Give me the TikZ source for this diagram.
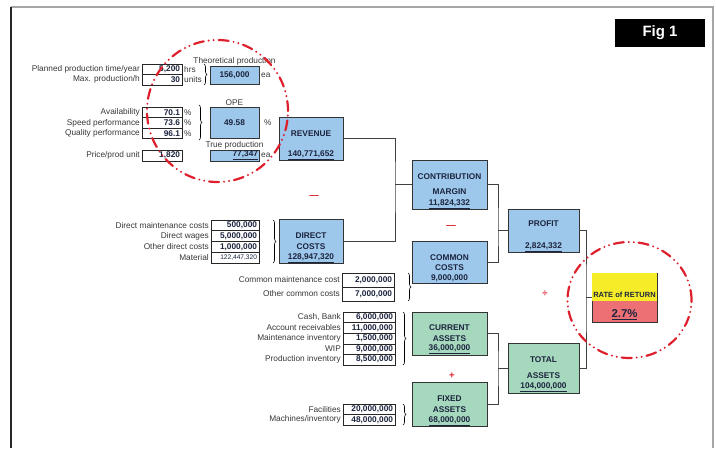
\documentclass[tikz,border=0pt]{standalone}
\usepackage{fontspec}
\setmainfont{Liberation Sans}
\usepackage{tikz}
\usetikzlibrary{calc,decorations.pathreplacing}
\definecolor{boxblue}{RGB}{157,200,235}
\definecolor{boxgreen}{RGB}{166,216,190}
\definecolor{roryellow}{RGB}{246,236,40}
\definecolor{rorred}{RGB}{236,112,116}
\definecolor{inkblue}{RGB}{28,36,62}
\definecolor{labelgray}{RGB}{55,55,55}
\definecolor{markred}{RGB}{222,32,44}
\newcommand\lblfont{\fontsize{8.3}{10}\selectfont}
\def\opsign{\node[text=markred, font=\fontsize{9.5}{10}\selectfont\bfseries, inner sep=0pt]}
\def\bluebox{\node[calcbox, fill=boxblue]}
\def\greenbox{\node[calcbox, fill=boxgreen]}

\begin{document}
\begin{tikzpicture}[x=1pt, y=-1pt,
  lbl/.style={text=labelgray, font=\lblfont, inner xsep=2pt, inner ysep=1pt},
  inbox/.style={draw=black!85, line width=0.6pt, fill=white, outer sep=0pt,
    inner xsep=2pt, inner ysep=0pt, minimum height=10.5pt, align=right,
    text=inkblue, font=\lblfont\bfseries, text width=#1},
  calcbox/.style={draw=black!80, line width=0.9pt, outer sep=0pt, inner sep=0pt,
    text=inkblue, font=\lblfont\bfseries},
  ttl/.style={text=inkblue, font=\lblfont\bfseries, align=center, inner sep=0pt},
  val/.style={text=inkblue, font=\lblfont\bfseries, inner sep=0pt},
  link/.style={draw=black!75, line width=0.7pt},
  grp/.style={decorate, decoration={brace, amplitude=3pt}, line width=0.6pt},
  ring/.style={draw=markred, line width=2.2pt, line cap=round,
    dash pattern=on 10pt off 5pt on 0pt off 5pt on 0pt off 5pt}]
\useasboundingbox (0,0) rectangle (716,448);
% frame
\draw[gray!70, line width=1.2pt] (11,7) -- (713,7) -- (713,448);
\draw[black!85, line width=1.2pt] (11,7) -- (11,448);
\node[fill=black, minimum width=90pt, minimum height=28pt, text=white,
  font=\fontsize{15}{18}\selectfont\bfseries] (fig) at (660,33) {Fig 1};

% theoretical production
\node[inbox=36pt] (hrs) at (162,69.25) {5,200};
\node[inbox=36pt] (maxp) at (162,79.75) {30};
\node[lbl, left] (hrs-l) at (hrs.west) {Planned production time/year};
\node[lbl, left] (maxp-l) at (maxp.west) {Max. production/h};
\node[lbl, right] (hrs-u) at (hrs.east) {hrs};
\node[lbl, right] (maxp-u) at (maxp.east) {units};
\draw[grp] (204,64) -- (204,85);
\bluebox[minimum width=49pt, minimum height=18pt] (theo) at (234.5,75) {156,000};
\node[lbl, above] (theo-l) at (theo.north) {Theoretical production};
\node[lbl, right] (theo-u) at (theo.east) {ea};

% OPE
\node[inbox=36pt] (avail) at (162,112.5) {70.1};
\node[inbox=36pt] (speed) at (162,123) {73.6};
\node[inbox=36pt] (qual) at (162,133.5) {96.1};
\node[lbl, left] (avail-l) at (avail.west) {Availability};
\node[lbl, left] (speed-l) at (speed.west) {Speed performance};
\node[lbl, left] (qual-l) at (qual.west) {Quality performance};
\node[lbl, right] (avail-u) at (avail.east) {\%};
\node[lbl, right] (speed-u) at (speed.east) {\%};
\node[lbl, right] (qual-u) at (qual.east) {\%};
\draw[grp] (199,105) -- (199,140);
\bluebox[minimum width=49pt, minimum height=31pt] (ope) at (234.5,122.5) {49.58};
\node[lbl, above] (ope-l) at (ope.north) {OPE};
\node[lbl, right, xshift=3pt] (ope-u) at (ope.east) {\%};
\bluebox[minimum width=49pt, minimum height=11pt, text width=47pt, align=right] (truep) at (234.5,155.5) {\underline{77,347}};
\node[lbl, above] (truep-l) at (truep.north) {True production};
\node[lbl, right] (truep-u) at (truep.east) {ea};
\node[inbox=36pt, minimum height=11pt] (price) at (162,155.5) {1,820};
\node[lbl, left] (price-l) at (price.west) {Price/prod unit};

% revenue
\bluebox[minimum width=64pt, minimum height=43pt] (rev) at (311,138.5) {};
\node[ttl] (rev-t) at ($(rev.north)+(0,17)$) {REVENUE};
\node[val] (rev-v) at ($(rev.south)+(0,-5)$) {\underline{140,771,652}};
\opsign (minus1) at (314,197) {\textemdash};

% direct costs
\node[inbox=44pt, minimum height=10.75pt] (dmc) at (235,225.4) {500,000};
\node[inbox=44pt, minimum height=10.75pt] (dw) at (235,236.1) {5,000,000};
\node[inbox=44pt, minimum height=10.75pt] (odc) at (235,246.9) {1,000,000};
\node[inbox=44pt, minimum height=10.75pt, font=\fontsize{6.6}{8}\selectfont] (mat) at (235,257.6) {122,447,320};
\node[lbl, left] (dmc-l) at (dmc.west) {Direct maintenance costs};
\node[lbl, left] (dw-l) at (dw.west) {Direct wages};
\node[lbl, left] (odc-l) at (odc.west) {Other direct costs};
\node[lbl, left] (mat-l) at (mat.west) {Material};
\draw[grp] (273,220) -- (273,263);
\bluebox[minimum width=64pt, minimum height=44pt] (dc) at (311,241) {};
\node[ttl] (dc-t) at ($(dc.north)+(0,22.5)$) {DIRECT\\[1pt]COSTS};
\node[val] (dc-v) at ($(dc.south)+(0,-5)$) {\underline{128,947,320}};

% contribution margin
\bluebox[minimum width=75pt, minimum height=49pt] (cm) at (449.5,184.5) {};
\node[ttl] (cm-t) at ($(cm.north)+(0,24.5)$) {CONTRIBUTION\\[5pt]MARGIN};
\node[val] (cm-v) at ($(cm.south)+(0,-5)$) {\underline{11,824,332}};
\opsign (minus2) at (451,227) {\textemdash};

% common costs
\node[inbox=48pt, minimum height=14pt] (cmc) at (368,280) {2,000,000};
\node[inbox=48pt, minimum height=14pt] (occ) at (368,294) {7,000,000};
\node[lbl, left] (cmc-l) at (cmc.west) {Common maintenance cost};
\node[lbl, left] (occ-l) at (occ.west) {Other common costs};
\draw[grp] (408,273) -- (408,301);
\bluebox[minimum width=75pt, minimum height=42pt] (cc) at (449.5,262) {};
\node[ttl] (cc-t) at ($(cc.north)+(0,22)$) {COMMON\\COSTS};
\node[val] (cc-v) at ($(cc.south)+(0,-4)$) {\underline{9,000,000}};

% profit
\bluebox[minimum width=71pt, minimum height=43pt] (prof) at (543.5,230.5) {};
\node[ttl] (prof-t) at ($(prof.north)+(0,15)$) {PROFIT};
\node[val] (prof-v) at ($(prof.south)+(0,-5)$) {\underline{2,824,332}};

% assets
\node[inbox=48pt, minimum height=10.6pt] (cash) at (369,317.3) {6,000,000};
\node[inbox=48pt, minimum height=10.6pt] (recv) at (369,327.9) {11,000,000};
\node[inbox=48pt, minimum height=10.6pt] (minv) at (369,338.5) {1,500,000};
\node[inbox=48pt, minimum height=10.6pt] (wip) at (369,349.1) {9,000,000};
\node[inbox=48pt, minimum height=10.6pt] (pinv) at (369,359.7) {8,500,000};
\node[lbl, left] (cash-l) at (cash.west) {Cash, Bank};
\node[lbl, left] (recv-l) at (recv.west) {Account receivables};
\node[lbl, left] (minv-l) at (minv.west) {Maintenance inventory};
\node[lbl, left] (wip-l) at (wip.west) {WIP};
\node[lbl, left] (pinv-l) at (pinv.west) {Production inventory};
\draw[grp] (403,312) -- (403,365);
\greenbox[minimum width=75pt, minimum height=43pt] (ca) at (449.5,333.5) {};
\node[ttl] (ca-t) at ($(ca.north)+(0,21.5)$) {CURRENT\\[1pt]ASSETS};
\node[val] (ca-v) at ($(ca.south)+(0,-6)$) {\underline{36,000,000}};
\opsign (plus1) at (452,376) {+};
\node[inbox=48pt] (fac) at (369,409.25) {20,000,000};
\node[inbox=48pt] (mach) at (369,419.75) {48,000,000};
\node[lbl, left] (fac-l) at (fac.west) {Facilities};
\node[lbl, left] (mach-l) at (mach.west) {Machines/inventory};
\draw[grp] (403,404) -- (403,425);
\greenbox[minimum width=75pt, minimum height=44pt] (fa) at (449.5,404) {};
\node[ttl] (fa-t) at ($(fa.north)+(0,22)$) {FIXED\\[1pt]ASSETS};
\node[val] (fa-v) at ($(fa.south)+(0,-5)$) {\underline{68,000,000}};
\greenbox[minimum width=71pt, minimum height=50pt] (ta) at (543.5,368) {};
\node[ttl] (ta-t) at ($(ta.north)+(0,25)$) {TOTAL\\[6pt]ASSETS};
\node[val] (ta-v) at ($(ta.south)+(0,-6)$) {\underline{104,000,000}};

% rate of return
\node[calcbox, fill=rorred, minimum width=65pt, minimum height=49pt] (ror) at (624.5,297.5) {};
\fill[roryellow] ($(ror.north west)+(0.45,0.45)$) rectangle ($(ror.east)+(-0.45,3.5)$);
\node[ttl, font=\fontsize{7.5}{9}\selectfont\bfseries] (ror-t) at ($(ror.north)+(0,22)$) {RATE of RETURN};
\node[val, font=\fontsize{11.4}{13}\selectfont\bfseries] (ror-v) at ($(ror.south)+(0,-7)$) {\underline{2.7\%}};
\opsign (div1) at (545,294) {÷};

% connectors
\coordinate (j-cm) at (395,184.5);
\draw[link] (rev.east) -| (j-cm) |- (dc.east);
\draw[link] (j-cm) -- (cm.west);
\coordinate (j-prof) at (498,230.5);
\draw[link] (cm.east) -| (j-prof) |- (cc.east);
\draw[link] (j-prof) -- (prof.west);
\coordinate (j-ta) at (498,368);
\draw[link] (ca.east) -| (j-ta) |- (fa.east);
\draw[link] (j-ta) -- (ta.west);
\coordinate (j-ror) at (586,297.5);
\draw[link] (prof.east) -| (j-ror) |- (ta.east);
\draw[link] (j-ror) -- (ror.west);

% highlight rings
\draw[ring] (217.5,111) ellipse[x radius=70.5pt, y radius=71pt];
\draw[ring] (629.5,300) ellipse[x radius=62pt, y radius=58pt];
\end{tikzpicture}
\end{document}
